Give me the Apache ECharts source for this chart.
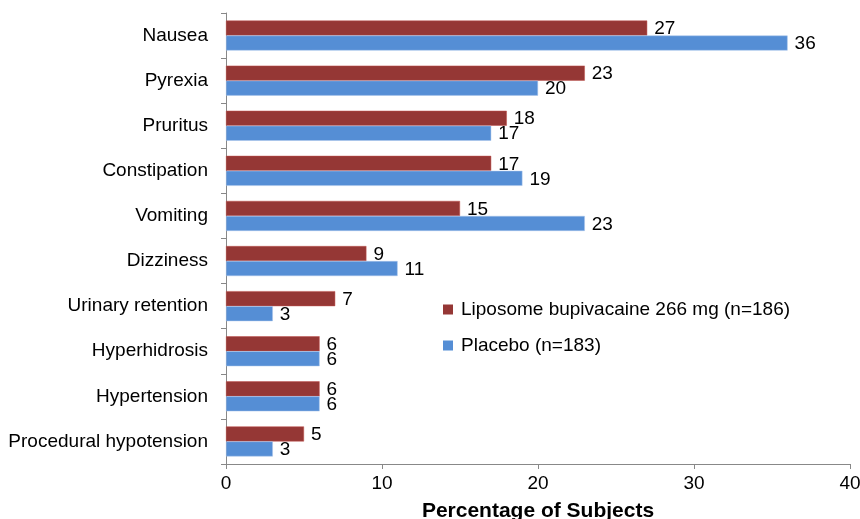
<!DOCTYPE html>
<html>
<head>
<meta charset="utf-8">
<script src="https://cdn.jsdelivr.net/npm/echarts@6/dist/echarts.min.js"></script>
<style>
html,body{margin:0;padding:0;background:#fff;}
#chart{width:860px;height:519px;}
</style>
</head>
<body>
<div id="chart"></div>
<script>
var categories = ['Nausea','Pyrexia','Pruritus','Constipation','Vomiting','Dizziness','Urinary retention','Hyperhidrosis','Hypertension','Procedural hypotension'];
var liposomeValues = [27,23,18,17,15,9,7,6,6,5];
var placeboValues = [36,20,17,19,23,11,3,6,6,3];
var xTicks = [0,10,20,30,40];
var seriesNames = ['Liposome bupivacaine 266 mg (n=186)','Placebo (n=183)'];

var font = 'Liberation Sans, Arial, Helvetica, sans-serif';
var fs = 19;
var chart = echarts.init(document.getElementById('chart'));
var labelStyle = {show:true, position:'right', distance:7, offset:[0,1], color:'#000', fontSize:fs, fontFamily:font};
chart.setOption({
  animation:false,
  backgroundColor:'#fff',
  grid:{left:226, right:10, top:13, bottom:55, containLabel:false, outerBoundsMode:'none'},
  legend:{
    orient:'vertical', left:443, top:300, padding:0,
    itemWidth:10, itemHeight:10, itemGap:17, icon:'rect',
    itemStyle:{borderWidth:0},
    textStyle:{fontSize:fs, fontFamily:font, color:'#000', lineHeight:16, padding:[0,0,0,3]},
    data:seriesNames
  },
  xAxis:{
    type:'value', min:xTicks[0], max:xTicks[xTicks.length-1], interval:10,
    name:'Percentage of Subjects', nameLocation:'middle', nameGap:37,
    nameTextStyle:{fontSize:21, fontWeight:'bold', fontFamily:font, color:'#000'},
    axisLine:{show:true, lineStyle:{color:'#888', width:1}},
    axisTick:{show:true, length:5, lineStyle:{color:'#888'}},
    axisLabel:{fontSize:fs, fontFamily:font, color:'#000', margin:10},
    splitLine:{show:false}
  },
  yAxis:{
    type:'category', data:categories, inverse:true,
    axisLine:{show:true, lineStyle:{color:'#888', width:1}},
    axisTick:{show:true, length:5, lineStyle:{color:'#888'}},
    axisLabel:{fontSize:fs, fontFamily:font, color:'#000', margin:18}
  },
  series:[
    {name:seriesNames[0], type:'bar', data:liposomeValues, barWidth:15, barGap:'0%',
     itemStyle:{color:'#953735', borderColor:'#c0504d', borderWidth:0.5}, label:labelStyle},
    {name:seriesNames[1], type:'bar', data:placeboValues, barWidth:15, barGap:'0%',
     itemStyle:{color:'#558ed5', borderColor:'#a9c4eb', borderWidth:0.5}, label:labelStyle}
  ]
});
</script>
</body>
</html>
